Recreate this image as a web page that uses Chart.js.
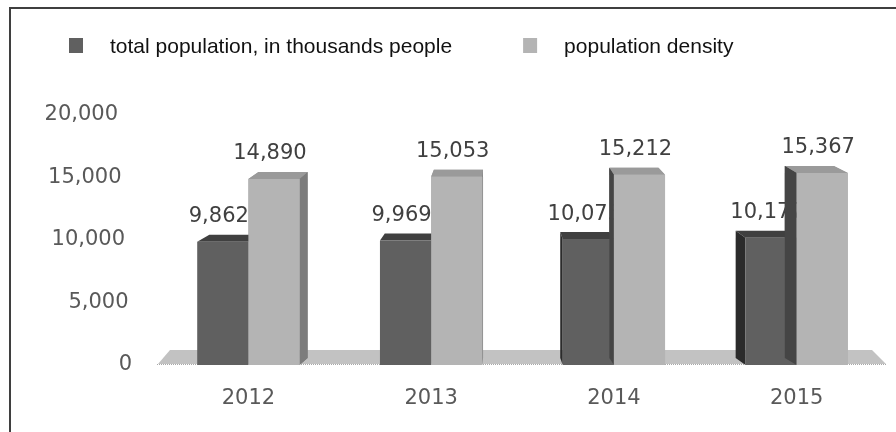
<html>
<head>
<meta charset="utf-8">
<style>
  body { margin: 0; background: #fff; }
  #wrap { width: 896px; height: 432px; position: relative; }
</style>
</head>
<body>
<div id="wrap"><canvas id="myChart"></canvas></div>

<script src="https://cdn.jsdelivr.net/npm/chart.js"></script>
<script>
  const years = ['2012', '2013', '2014', '2015'];
  const totalPopulation = [9862, 9969, 10075, 10177];
  const populationDensity = [14890, 15053, 15212, 15367];
  const seriesLabels = ['total population, in thousands people', 'population density'];
  const seriesColors = ['#606060', '#b4b4b4'];

  // colours of the fake 3d faces: [top, left side, right side]
  const faceColors = [['#404040', '#2b2b2b', '#4a4a4a'], ['#9a9a9a', '#454545', '#7c7c7c']];
  const tickFont = '21px "DejaVu Sans"';
  const K = 0.04;   // how much the faces lean towards the middle
  const DY = -7;

  function fmt(v) {
    return v.toLocaleString('en-US');
  }

  function poly(ctx, pts, color) {
    ctx.beginPath();
    ctx.moveTo(pts[0][0], pts[0][1]);
    for (let i = 1; i < pts.length; i++) ctx.lineTo(pts[i][0], pts[i][1]);
    ctx.closePath();
    ctx.fillStyle = color;
    ctx.fill();
  }

  function drawFaces(chart, index) {
    const ctx = chart.ctx, a = chart.chartArea;
    const vx = a.left + (a.right - a.left) * 0.47;
    const fc = faceColors[index];
    ctx.save();
    chart.getDatasetMeta(index).data.forEach(function (bar) {
      let p = bar.getProps(['x', 'y', 'base', 'width'], true);
      let x0 = p.x - p.width / 2, x1 = p.x + p.width / 2;
      let dx0 = (vx - x0) * K, dx1 = (vx - x1) * K;
      poly(ctx, [[x0, p.y], [x1, p.y], [x1 + dx1, p.y + DY], [x0 + dx0, p.y + DY]], fc[0]);
      if (dx0 < 0) {
        poly(ctx, [[x0, p.y], [x0 + dx0, p.y + DY], [x0 + dx0, p.base + DY], [x0, p.base]], fc[1]);
      }
      if (dx1 > 0) {
        poly(ctx, [[x1, p.y], [x1 + dx1, p.y + DY], [x1 + dx1, p.base + DY], [x1, p.base]], fc[2]);
      }
    });
    ctx.restore();
  }

  function drawValues(chart, index) {
    const ctx = chart.ctx;
    const values = chart.data.datasets[index].data;
    ctx.save();
    ctx.font = tickFont;
    ctx.fillStyle = '#404040';
    ctx.textAlign = 'center';
    ctx.textBaseline = 'middle';
    chart.getDatasetMeta(index).data.forEach(function (bar, i) {
      let p = bar.getProps(['x', 'y'], true);
      ctx.fillText(fmt(values[i]), p.x - 4, p.y - 25);
    });
    ctx.restore();
  }

  const look3d = {
    id: 'look3d',
    beforeDatasetsDraw(chart) {
      const ctx = chart.ctx, a = chart.chartArea;
      let b = a.bottom - 1;
      ctx.save();
      // floor
      poly(ctx, [[a.left + 1, b], [a.right - 2, b], [a.right - 16, b - 14], [a.left + 13, b - 14]], '#c2c2c2');
      ctx.strokeStyle = '#a8a8a8';
      ctx.setLineDash([1, 1]);
      ctx.beginPath();
      ctx.moveTo(a.left, b + 0.5);
      ctx.lineTo(a.right - 2, b + 0.5);
      ctx.stroke();
      ctx.restore();
    },
    beforeDatasetDraw(chart, args) {
      drawFaces(chart, args.index);
    },
    afterDatasetsDraw(chart) {
      // dark labels sit behind the light bars, so draw the light bars again on top
      drawValues(chart, 0);
      drawFaces(chart, 1);
      chart.getDatasetMeta(1).data.forEach(function (bar) {
        bar.draw(chart.ctx, chart.chartArea);
      });
      drawValues(chart, 1);
    },
    afterDraw(chart) {
      const ctx = chart.ctx, a = chart.chartArea, y = chart.scales.y;
      ctx.save();

      // y labels, shifted a bit to the right going down (perspective)
      ctx.font = tickFont;
      ctx.fillStyle = '#595959';
      ctx.textAlign = 'right';
      ctx.textBaseline = 'middle';
      y.ticks.forEach(function (t) {
        let py = y.getPixelForValue(t.value);
        let px = a.left - 39 + (py - a.top) / (a.bottom - a.top) * 14;
        ctx.fillText(fmt(t.value), px, py);
      });

      // legend
      ctx.font = '21px "Liberation Sans"';
      ctx.textAlign = 'left';
      ctx.textBaseline = 'alphabetic';
      let lx = 69;
      chart.data.datasets.forEach(function (ds) {
        ctx.fillStyle = ds.backgroundColor;
        ctx.fillRect(lx, 38, 14, 15);
        ctx.fillStyle = '#111';
        ctx.fillText(ds.label, lx + 41, 53);
        lx += 41 + ctx.measureText(ds.label).width + 71;
      });

      // frame
      ctx.fillStyle = '#3f3f3f';
      ctx.fillRect(9, 7, 2, 432);
      ctx.fillRect(9, 7, 890, 2);
      ctx.restore();
    }
  };

  const ctx = document.getElementById('myChart');
  const chart = new Chart(ctx, {
    type: 'bar',
    data: {
      labels: years,
      datasets: [
        {
          label: seriesLabels[0],
          data: totalPopulation,
          backgroundColor: seriesColors[0],
          categoryPercentage: 0.56,
          barPercentage: 1
        },
        {
          label: seriesLabels[1],
          data: populationDensity,
          backgroundColor: seriesColors[1],
          categoryPercentage: 0.56,
          barPercentage: 1
        }
      ]
    },
    plugins: [look3d],
    options: {
      responsive: true,
      maintainAspectRatio: false,
      animation: false,
      layout: {
        padding: {top: 115, right: 8, bottom: 0, left: 0}
      },
      plugins: {
        legend: {display: false},
        tooltip: {enabled: false}
      },
      scales: {
        x: {
          grid: {display: false, drawTicks: false},
          border: {display: false},
          ticks: {
            font: {family: 'DejaVu Sans', size: 21},
            color: '#595959',
            padding: 21
          },
          afterFit(scale) {
            scale.height = 67;
          }
        },
        y: {
          min: 0,
          max: 20000,
          grid: {display: false, drawTicks: false},
          border: {display: false},
          ticks: {display: false, stepSize: 5000},
          afterFit(scale) {
            scale.width = 157;
          }
        }
      }
    }
  });
</script>
</body>
</html>
